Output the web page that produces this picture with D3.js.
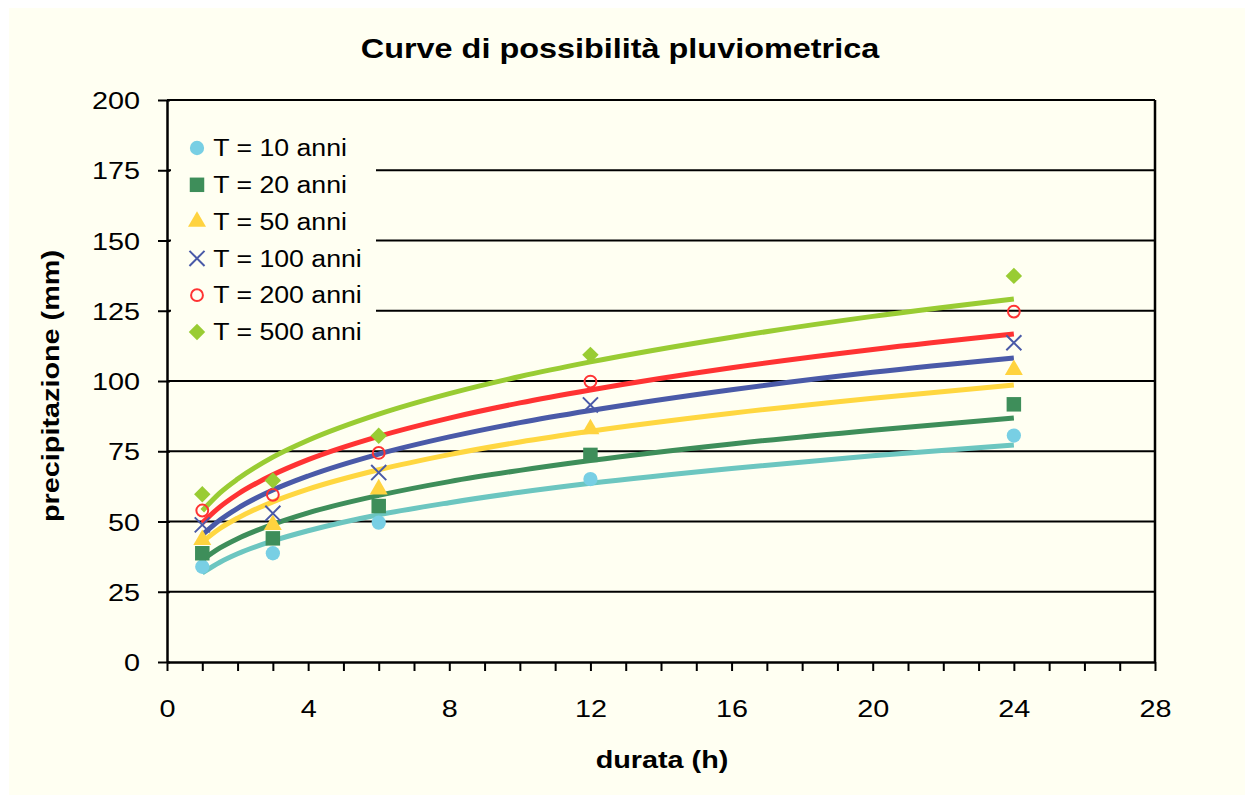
<!DOCTYPE html>
<html>
<head>
<meta charset="utf-8">
<script src="https://cdn.jsdelivr.net/npm/d3@7"></script>
<style>
  body { margin: 0; background: #ffffff; }
  text { font-family: "Liberation Sans", Arial, sans-serif; fill: #000; }
</style>
</head>
<body>
<svg id="chart" width="1254" height="802"></svg>
<script>
// durations of the measured points (h)
const durate = [1, 3, 6, 12, 24];
// durations where the fitted curves were read
const durateCurva = [1, 1.5, 2, 3, 4, 6, 8, 10, 12, 16, 20, 24];

const serie = ["T = 10 anni", "T = 20 anni", "T = 50 anni", "T = 100 anni", "T = 200 anni", "T = 500 anni"];

// measured points (mm)
const punti10  = [33.9, 38.7, 49.6, 65.1, 80.6];
const punti20  = [38.7, 44.0, 55.5, 73.7, 91.7];
const punti50  = [43.5, 48.8, 61.5, 82.9, 104.0];
const punti100 = [48.8, 52.9, 67.4, 91.5, 113.6];
const punti200 = [53.9, 59.5, 74.4, 99.8, 124.7];
const punti500 = [59.7, 64.6, 80.5, 109.3, 137.4];

// fitted curves (mm), read at durateCurva
const curva10  = [31.7, 35.5, 38.5, 43.1, 46.7, 52.4, 56.7, 60.4, 63.6, 68.9, 73.4, 77.2];
const curva20  = [36.3, 40.6, 43.9, 49.0, 53.1, 59.3, 64.2, 68.2, 71.7, 77.6, 82.5, 86.8];
const curva50  = [42.7, 47.5, 51.2, 57.0, 61.5, 68.4, 73.8, 78.3, 82.1, 88.5, 93.9, 98.6];
const curva100 = [45.2, 50.5, 54.7, 61.2, 66.2, 74.0, 80.1, 85.2, 89.5, 96.9, 103.1, 108.2];
const curva200 = [49.5, 55.2, 59.7, 66.6, 72.0, 80.3, 86.8, 92.2, 96.8, 104.7, 111.2, 116.7];
const curva500 = [53.8, 60.2, 65.1, 72.9, 78.9, 88.2, 95.5, 101.6, 106.8, 115.6, 123.0, 129.2];

const xTicks = [0, 4, 8, 12, 16, 20, 24, 28];
const yTicks = [0, 25, 50, 75, 100, 125, 150, 175, 200];

const punti = [punti10, punti20, punti50, punti100, punti200, punti500];
const curve = [curva10, curva20, curva50, curva100, curva200, curva500];

const lineColors   = ["#6cc6c0", "#3e8e5a", "#ffd740", "#4a5aa8", "#ff3333", "#99cc33"];
const markerColors = ["#78cfe4", "#3e8e5a", "#ffd33f", "#4a5aa8", "#ff3333", "#99cc33"];

let chart = d3.select("#chart");
const cream = "#fffff2";

chart.append("rect")
    .attr("x", 9).attr("y", 8)
    .attr("width", 1236).attr("height", 787)
    .attr("fill", cream);

xScale = d3.scaleLinear().domain([0, 28]).range([167, 1155]);
yScale = d3.scaleLinear().domain([0, 200]).range([662, 100]);

// horizontal gridlines
chart.append("g").selectAll("line")
    .data(yTicks.filter(d => d > 0)).enter()
    .append("line")
        .attr("x1", xScale(0)).attr("x2", xScale(28))
        .attr("y1", d => yScale(d)).attr("y2", d => yScale(d))
        .attr("stroke", "#000").attr("stroke-width", 2);

// right border of plot area
chart.append("line")
    .attr("x1", xScale(28)).attr("x2", xScale(28))
    .attr("y1", yScale(200)).attr("y2", yScale(0))
    .attr("stroke", "#000").attr("stroke-width", 2.5);

// curves
let line = d3.line()
    .x(d => xScale(d[0]))
    .y(d => yScale(d[1]))
    .curve(d3.curveMonotoneX);

curve.forEach(function(c, i) {
    chart.append("path")
        .datum(durateCurva.map((t, j) => [t, c[j]]))
        .attr("d", line)
        .attr("fill", "none")
        .attr("stroke", lineColors[i])
        .attr("stroke-width", 5)
        .attr("stroke-linejoin", "round");
});

// marker shapes per series
function marker(sel, i) {
    if (i == 0) {
        sel.append("path").attr("d", d3.symbol(d3.symbolCircle, 160)())
            .attr("fill", markerColors[i]);
    } else if (i == 1) {
        sel.append("path").attr("d", d3.symbol(d3.symbolSquare, 210)())
            .attr("fill", markerColors[i]);
    } else if (i == 2) {
        sel.append("path").attr("d", d3.symbol(d3.symbolTriangle, 140)())
            .attr("fill", markerColors[i]);
    } else if (i == 3) {
        sel.append("path").attr("d", d3.symbol(d3.symbolX, 150)())
            .attr("fill", "none").attr("stroke", markerColors[i]).attr("stroke-width", 2);
    } else if (i == 4) {
        sel.append("path").attr("d", d3.symbol(d3.symbolCircle, 110)())
            .attr("fill", "none").attr("stroke", markerColors[i]).attr("stroke-width", 2);
    } else {
        sel.append("path").attr("d", d3.symbol(d3.symbolSquare, 135)())
            .attr("transform", "rotate(45)")
            .attr("fill", markerColors[i]);
    }
}

punti.forEach(function(p, i) {
    chart.append("g").selectAll("g")
        .data(p).enter()
        .append("g")
            .attr("transform", (d, j) => "translate(" + xScale(durate[j]) + "," + yScale(d) + ")")
            .each(function() { marker(d3.select(this), i); });
});

// axes
yAxis = chart.append("g")
    .attr("transform", "translate(" + xScale(0) + ",0)")
    .call(d3.axisLeft(yScale).tickValues(yTicks).tickSize(9).tickSizeOuter(0));
yAxis.selectAll(".tick line").attr("x1", 3).attr("stroke-width", 2);
yAxis.selectAll(".tick text")
    .attr("x", -22.5).attr("dy", "0.36em")
    .attr("transform", "scale(1.2,1)")
    .style("font-size", "24px");

xAxis = chart.append("g")
    .attr("transform", "translate(0," + yScale(0) + ")")
    .call(d3.axisBottom(xScale).tickValues(d3.range(0, 29, 1))
        .tickFormat(d => xTicks.includes(d) ? d : "")
        .tickSize(9).tickSizeOuter(0));
xAxis.selectAll(".tick line").attr("stroke-width", 2);
xAxis.selectAll(".tick text")
    .attr("y", 55).attr("dy", 0).attr("x", 0)
    .attr("transform", "scale(1.2,1)")
    .style("font-size", "24px");

chart.selectAll(".domain").attr("stroke", "#000").attr("stroke-width", 2.5);
chart.selectAll(".tick text").attr("fill", "#000").style("font-family", "'Liberation Sans', Arial, sans-serif");

// legend
chart.append("rect")
    .attr("x", 171).attr("y", 128)
    .attr("width", 205).attr("height", 224)
    .attr("fill", cream);

serie.forEach(function(s, i) {
    let g = chart.append("g").attr("transform", "translate(197," + (148 + i * 36.8) + ")");
    marker(g, i);
    g.append("text")
        .text(s)
        .attr("x", 14)
        .attr("dy", "0.36em")
        .attr("transform", "scale(1.16,1)")
        .style("font-size", "23px");
});

// titles
chart.append("text")
    .text("Curve di possibilità pluviometrica")
    .attr("transform", "translate(620,58) scale(1.2,1)")
    .style("text-anchor", "middle")
    .style("font-size", "27px")
    .attr("font-weight", "bold");

chart.append("text")
    .text("durata (h)")
    .attr("transform", "translate(662,768) scale(1.2,1)")
    .style("text-anchor", "middle")
    .style("font-size", "24px")
    .attr("font-weight", "bold");

chart.append("text")
    .text("precipitazione (mm)")
    .attr("transform", "translate(59,386) rotate(-90) scale(1.2,1)")
    .style("text-anchor", "middle")
    .style("font-size", "24px")
    .attr("font-weight", "bold");
</script>
</body>
</html>
